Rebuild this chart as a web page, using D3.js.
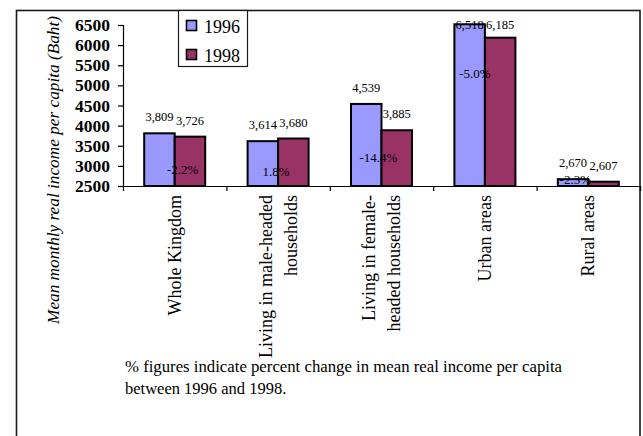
<!DOCTYPE html>
<html>
<head>
<meta charset="utf-8">
<script src="https://cdn.jsdelivr.net/npm/d3@7"></script>
<style>
  html, body { margin: 0; padding: 0; background: #fff; }
  svg { display: block; }
  text { font-family: "Liberation Serif", "Times New Roman", serif; fill: #000; }
</style>
</head>
<body>
<svg id="chart" width="643" height="436"></svg>
<script>
// Mean monthly real income per capita (Baht), 1996 vs 1998
const categories = [
  ["Whole Kingdom"],
  ["Living in male-headed", "households"],
  ["Living in female-", "headed households"],
  ["Urban areas"],
  ["Rural areas"]
];
const seriesNames = ["1996", "1998"];
const values1996 = [3809, 3614, 4539, 6518, 2670];
const values1998 = [3726, 3680, 3885, 6185, 2607];
const pctChange = ["-2.2%", "1.8%", "-14.4%", "-5.0%", "-2.3%"];
const yTicks = [2500, 3000, 3500, 4000, 4500, 5000, 5500, 6000, 6500];
const colors = ["#9999FF", "#993366"];

// Where each percent-change note sits: [horizontal shift from group centre (px), height in Baht]
const pctNoteLayout = [[8, 2900], [-2, 2850], [-3, 3200], [-10, 5300], [-13, 2650]];

const svg = d3.select("#chart");

// outer chart frame
svg.append("rect")
  .attr("x", 16.5).attr("y", 10.5)
  .attr("width", 623.5).attr("height", 460)
  .attr("fill", "none").attr("stroke", "#1a1a1a").attr("stroke-width", 1.6);

const plot = { left: 123, right: 640, top: 25, bottom: 186 };

const x0 = d3.scaleBand()
  .domain(d3.range(categories.length))
  .range([plot.left, plot.right])
  .padding(0);

const x1 = d3.scaleBand()
  .domain(seriesNames)
  .range([0, x0.bandwidth()])
  .paddingInner(0)
  .paddingOuter(0.695);

const y = d3.scaleLinear()
  .domain([yTicks[0], yTicks[yTicks.length - 1]])
  .range([plot.bottom, plot.top]);

// bars
const rows = categories.map((c, i) => ({ i, vals: [values1996[i], values1998[i]] }));
const groups = svg.append("g").selectAll("g")
  .data(rows).join("g")
  .attr("transform", d => `translate(${x0(d.i)},0)`);

groups.selectAll("rect")
  .data(d => d.vals.map((v, k) => ({ v, k })))
  .join("rect")
  .attr("x", d => x1(seriesNames[d.k]))
  .attr("width", x1.bandwidth())
  .attr("y", d => y(d.v))
  .attr("height", d => y(yTicks[0]) - y(d.v))
  .attr("fill", d => colors[d.k])
  .attr("stroke", "#000")
  .attr("stroke-width", 2);

// value labels above each bar
groups.selectAll("text.val")
  .data(d => d.vals.map((v, k) => ({ v, k })))
  .join("text")
  .attr("class", "val")
  .attr("x", d => x1(seriesNames[d.k]) + x1.bandwidth() / 2)
  .attr("y", d => Math.max(y(d.v) - 16, 25))
  .attr("dominant-baseline", "central")
  .attr("text-anchor", "middle")
  .attr("font-size", 12.5)
  .text(d => d3.format(",")(d.v));

// percent change notes
svg.append("g").selectAll("text")
  .data(pctChange)
  .join("text")
  .attr("x", (d, i) => x0(i) + x0.bandwidth() / 2 + pctNoteLayout[i][0])
  .attr("y", (d, i) => y(pctNoteLayout[i][1]))
  .attr("dominant-baseline", "central")
  .attr("text-anchor", "middle")
  .attr("font-size", 13)
  .text(d => d);

// y axis
const yAxis = svg.append("g")
  .attr("transform", `translate(${plot.left},0)`)
  .call(d3.axisLeft(y).tickValues(yTicks).tickSize(5).tickPadding(8).tickFormat(d3.format("d")));
yAxis.select(".domain").attr("stroke", "#000").attr("stroke-width", 1.2);
yAxis.selectAll(".tick line").attr("stroke", "#000").attr("stroke-width", 1.2);
yAxis.selectAll(".tick text")
  .attr("font-family", "Liberation Serif, serif")
  .attr("font-size", 17.5)
  .attr("font-weight", "bold")
  .attr("fill", "#000");

// x axis line with ticks at category boundaries
const xAxis = svg.append("g")
  .attr("transform", `translate(0,${plot.bottom})`)
  .call(d3.axisBottom(d3.scaleLinear().domain([0, categories.length]).range([plot.left, plot.right]))
    .tickValues(d3.range(1, categories.length + 1)).tickSize(5).tickFormat(""));
xAxis.select(".domain").attr("stroke", "#000").attr("stroke-width", 1.2);
xAxis.selectAll(".tick line").attr("stroke", "#000").attr("stroke-width", 1.2);

// rotated category labels
const catG = svg.append("g");
categories.forEach((lines, i) => {
  const cx = x0(i) + x0.bandwidth() / 2;
  lines.forEach((line, j) => {
    const lx = cx + (j - (lines.length - 1) / 2) * 25;
    catG.append("text")
      .attr("transform", `translate(${lx},${plot.bottom + 9}) rotate(-90)`)
      .attr("text-anchor", "end")
      .attr("dy", "0.33em")
      .attr("font-size", 18)
      .text(line);
  });
});

// y axis title
svg.append("text")
  .attr("transform", "translate(59,170) rotate(-90)")
  .attr("text-anchor", "middle")
  .attr("font-size", 17)
  .attr("font-style", "italic")
  .attr("textLength", 308)
  .attr("lengthAdjust", "spacingAndGlyphs")
  .text("Mean monthly real income per capita (Baht)");

// legend
const legend = svg.append("g");
legend.append("rect")
  .attr("x", 178.5).attr("y", 10.5).attr("width", 69).attr("height", 56)
  .attr("fill", "#fff").attr("stroke", "#1a1a1a").attr("stroke-width", 1.2);
seriesNames.forEach((name, k) => {
  legend.append("rect")
    .attr("x", 186.5).attr("y", 20.5 + k * 29)
    .attr("width", 10).attr("height", 10)
    .attr("fill", colors[k]).attr("stroke", "#000").attr("stroke-width", 1.6);
  legend.append("text")
    .attr("x", 204).attr("y", 32.5 + k * 29)
    .attr("font-size", 18)
    .text(name);
});

// footnote
const note = [
  "% figures indicate percent change in mean real income per capita",
  "between 1996 and 1998."
];
svg.append("text")
  .attr("x", 125).attr("y", 372)
  .attr("font-size", 16.5)
  .attr("textLength", 437)
  .attr("lengthAdjust", "spacingAndGlyphs")
  .text(note[0]);
svg.append("text")
  .attr("x", 125).attr("y", 394)
  .attr("font-size", 16.5)
  .text(note[1]);
</script>
</body>
</html>
